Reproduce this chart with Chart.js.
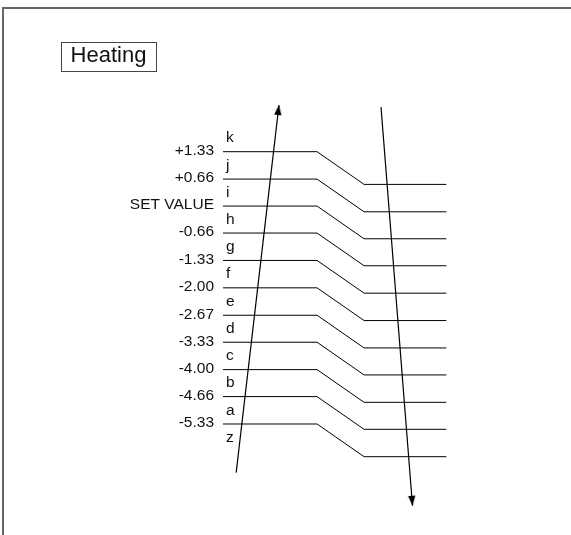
<!DOCTYPE html>
<html>
<head>
<meta charset="utf-8">
<title>Heating</title>
<script src="https://cdn.jsdelivr.net/npm/chart.js@4.4.1/dist/chart.umd.min.js"></script>
<style>
  html, body { margin: 0; padding: 0; background: #fff; }
  #wrap { position: relative; width: 571px; height: 535px; }
</style>
</head>
<body>
<div id="wrap"><canvas id="chart" width="571" height="535"></canvas></div>
<script>
// ── Data ──
const TITLE = 'Heating';
const LEVEL_LABELS = ['+1.33', '+0.66', 'SET VALUE', '-0.66', '-1.33', '-2.00', '-2.67', '-3.33', '-4.00', '-4.66', '-5.33'];
const LEVEL_VALUES = [1.33, 0.66, 0, -0.66, -1.33, -2.00, -2.67, -3.33, -4.00, -4.66, -5.33];
const BAND_LETTERS = ['k', 'j', 'i', 'h', 'g', 'f', 'e', 'd', 'c', 'b', 'a', 'z'];

// rising arrow (left) and falling arrow (right): [start, end]
const RISE_X = [0.28, 1.19];
const RISE_Y = [-6.52, 2.47];
const FALL_X = [3.36, 4.03];
const FALL_Y = [2.42, -7.33];

// ── Shape / style ──
const STEP_X = [0, 2, 3, 4.75];   // level run, knee start, knee end, tail end
const STEP_DROP = 0.8;
const X_MIN = 0, X_MAX = 7.4;
const Y_MIN = -8.045, Y_MAX = 5.04;
const FONT = 'Liberation Sans, Arial, Helvetica, sans-serif';
const INK = '#111';

// band edges: one step above the first level and one below the last
const step = LEVEL_VALUES[0] - LEVEL_VALUES[1];
const bandEdges = [LEVEL_VALUES[0] + step, ...LEVEL_VALUES, LEVEL_VALUES[LEVEL_VALUES.length - 1] - step];
const BAND_CENTERS = BAND_LETTERS.map((_, i) => (bandEdges[i] + bandEdges[i + 1]) / 2);

// ── Arrow head as point style (tip at canvas centre) ──
function makeArrowHead() {
  const c = document.createElement('canvas');
  c.width = 8; c.height = 22;
  const g = c.getContext('2d');
  g.fillStyle = '#000';
  g.beginPath();
  g.moveTo(4, 11);
  g.lineTo(7.7, 21);
  g.lineTo(0.3, 21);
  g.closePath();
  g.fill();
  return c;
}
const ARROW_HEAD = makeArrowHead();

function headAngle(ctx) {
  const d = ctx.dataset.data, sx = ctx.chart.scales.x, sy = ctx.chart.scales.y;
  const dx = sx.getPixelForValue(d[1].x) - sx.getPixelForValue(d[0].x);
  const dy = sy.getPixelForValue(d[1].y) - sy.getPixelForValue(d[0].y);
  return Math.atan2(dx, -dy) * 180 / Math.PI;
}

function arrowDataset(xs, ys) {
  return {
    data: xs.map((x, i) => ({ x, y: ys[i] })),
    showLine: true,
    borderColor: '#000',
    borderWidth: 1.2,
    pointRadius: [0, 4],
    pointStyle: ARROW_HEAD,
    rotation: headAngle,
    clip: false,
  };
}

// ── Datasets ──
const levelSets = LEVEL_VALUES.map(v => ({
  data: STEP_X.map((x, k) => ({ x, y: k >= 2 ? v - STEP_DROP : v })),
  showLine: true,
  borderColor: '#000',
  borderWidth: 1,
  pointRadius: 0,
  clip: false,
}));

// ── Frame + caption box ──
const framePlugin = {
  id: 'frame',
  beforeDraw(chart) {
    const c = chart.ctx;
    c.save();
    c.strokeStyle = '#666';
    c.lineWidth = 2;
    c.beginPath();
    c.moveTo(3, chart.height);
    c.lineTo(3, 8);
    c.lineTo(chart.width, 8);
    c.stroke();
    c.restore();
  },
  afterDraw(chart) {
    const c = chart.ctx;
    c.save();
    c.strokeStyle = '#444';
    c.lineWidth = 1;
    c.strokeRect(61.5, 42.5, 95, 29);
    c.fillStyle = INK;
    c.font = '22px ' + FONT;
    c.textAlign = 'center';
    c.textBaseline = 'middle';
    c.fillText(TITLE, 108.5, 56);
    c.restore();
  }
};

// ── Chart ──
new Chart(document.getElementById('chart'), {
  type: 'scatter',
  data: {
    datasets: [
      ...levelSets,
      arrowDataset(RISE_X, RISE_Y),
      arrowDataset(FALL_X, FALL_Y),
    ],
  },
  options: {
    responsive: false,
    animation: false,
    events: [],
    layout: { padding: 0, autoPadding: false },
    plugins: { legend: { display: false }, tooltip: { enabled: false } },
    scales: {
      x: { type: 'linear', display: false, min: X_MIN, max: X_MAX },
      y: {
        type: 'linear', position: 'left', weight: 1,
        min: Y_MIN, max: Y_MAX,
        grid: { display: false, drawTicks: false },
        border: { display: false },
        afterBuildTicks: axis => { axis.ticks = LEVEL_VALUES.map(value => ({ value })); },
        afterFit: axis => { axis.width = 223; axis.paddingTop = 0; axis.paddingBottom = 0; },
        ticks: {
          autoSkip: false, padding: 9, labelOffset: -1,
          color: INK, font: { family: FONT, size: 15.5 },
          callback: (v, i) => LEVEL_LABELS[i],
        },
      },
      band: {
        type: 'linear', position: 'left', weight: 0,
        min: Y_MIN, max: Y_MAX,
        grid: { display: false, drawTicks: false },
        border: { display: false },
        afterBuildTicks: axis => { axis.ticks = BAND_CENTERS.map(value => ({ value })); },
        afterFit: axis => { axis.width = 0; axis.paddingTop = 0; axis.paddingBottom = 0; },
        ticks: {
          autoSkip: false, mirror: true, padding: 3,
          color: INK, font: { family: FONT, size: 15.5 },
          callback: (v, i) => BAND_LETTERS[i],
        },
      },
    },
  },
  plugins: [framePlugin],
});
</script>
</body>
</html>
